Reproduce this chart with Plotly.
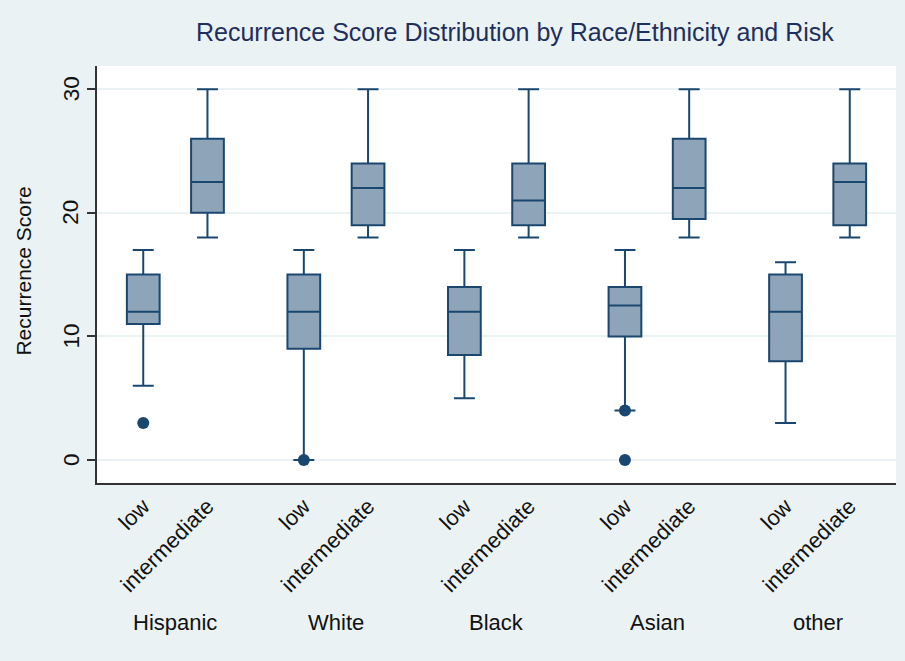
import plotly.graph_objects as go

# Recurrence score summaries by race/ethnicity and risk group
groups = ["Hispanic", "White", "Black", "Asian", "other"]
risks = ["low", "intermediate"]

low_lower = [6, 0, 5, 4, 3]
low_q1 = [11, 9, 8.5, 10, 8]
low_median = [12, 12, 12, 12.5, 12]
low_q3 = [15, 15, 14, 14, 15]
low_upper = [17, 17, 17, 17, 16]

int_lower = [18, 18, 18, 18, 18]
int_q1 = [20, 19, 19, 19.5, 19]
int_median = [22.5, 22, 21, 22, 22.5]
int_q3 = [26, 24, 24, 26, 24]
int_upper = [30, 30, 30, 30, 30]

# outside values (group, score) for the low-risk boxes
outlier_groups = ["Hispanic", "White", "Asian", "Asian"]
outlier_scores = [3, 0, 4, 0]

y_ticks = [0, 10, 20, 30]

NAVY = "#1a476f"
FILL = "#8ea4b8"
BG = "#eaf2f3"
FONT = "Liberation Sans, Arial, Helvetica, sans-serif"

GROUP_STEP = 2.5
PAIR_STEP = 1.0
low_x = [i * GROUP_STEP for i in range(len(groups))]
int_x = [i * GROUP_STEP + PAIR_STEP for i in range(len(groups))]

xs, q1s, meds, q3s, los, his = [], [], [], [], [], []
for i in range(len(groups)):
    xs += [low_x[i], int_x[i]]
    q1s += [low_q1[i], int_q1[i]]
    meds += [low_median[i], int_median[i]]
    q3s += [low_q3[i], int_q3[i]]
    los += [low_lower[i], int_lower[i]]
    his += [low_upper[i], int_upper[i]]

fig = go.Figure()
fig.add_trace(go.Box(
    x=xs, q1=q1s, median=meds, q3=q3s, lowerfence=los, upperfence=his,
    width=0.51, whiskerwidth=0.64,
    fillcolor=FILL, line=dict(color=NAVY, width=2),
    boxpoints=False, showlegend=False, hoverinfo="skip",
))

fig.add_trace(go.Scatter(
    x=[low_x[groups.index(g)] for g in outlier_groups], y=outlier_scores,
    mode="markers", marker=dict(color=NAVY, size=12, line=dict(width=0)),
    showlegend=False, hoverinfo="skip",
))

tick_vals, tick_text = [], []
for i in range(len(groups)):
    tick_vals += [low_x[i], int_x[i]]
    tick_text += risks

fig.update_layout(
    width=905, height=661,
    margin=dict(l=97, r=9, t=66, b=178),
    paper_bgcolor=BG, plot_bgcolor="white",
    font=dict(family=FONT, color="#000000"),
    boxmode="overlay",
)

fig.update_xaxes(
    range=[-0.72, 11.72],
    tickmode="array", tickvals=tick_vals, ticktext=tick_text,
    tickangle=-45, tickfont=dict(size=22, family=FONT, color="#111"),
    ticks="", showgrid=False, zeroline=False,
    showline=True, linecolor="#333", linewidth=1.5,
)
# y tick marks from the axis; vertical value labels set just left of them
fig.update_yaxes(
    range=[-1.86, 31.88],
    tickmode="array", tickvals=y_ticks, showticklabels=False,
    ticks="outside", ticklen=8, tickwidth=1.5, tickcolor="#333",
    showgrid=True, gridcolor=BG, gridwidth=2, zeroline=False,
    showline=True, linecolor="#333", linewidth=1.5,
)

annotations = [
    dict(text="Recurrence Score Distribution by Race/Ethnicity and Risk",
         xref="paper", yref="paper", x=0.523, y=1.0815,
         xanchor="center", yanchor="middle", showarrow=False,
         font=dict(size=25, family=FONT, color="#1e2f5c")),
    dict(text="Recurrence Score", xref="paper", yref="paper",
         x=-0.0916, y=0.509, textangle=-90,
         xanchor="center", yanchor="middle", showarrow=False,
         font=dict(size=21, family=FONT, color="#111")),
]
for v in y_ticks:
    annotations.append(dict(
        text=str(v), xref="paper", yref="y", x=-0.0325, y=v,
        textangle=-90, xanchor="center", yanchor="middle", showarrow=False,
        font=dict(size=22.5, family=FONT, color="#111"),
    ))
for i, g in enumerate(groups):
    annotations.append(dict(
        text=g, xref="x", yref="paper",
        x=(low_x[i] + int_x[i]) / 2, y=-0.3357,
        xanchor="center", yanchor="middle", showarrow=False,
        font=dict(size=22, family=FONT, color="#111"),
    ))
fig.update_layout(annotations=annotations)

fig.write_html("out.html")
